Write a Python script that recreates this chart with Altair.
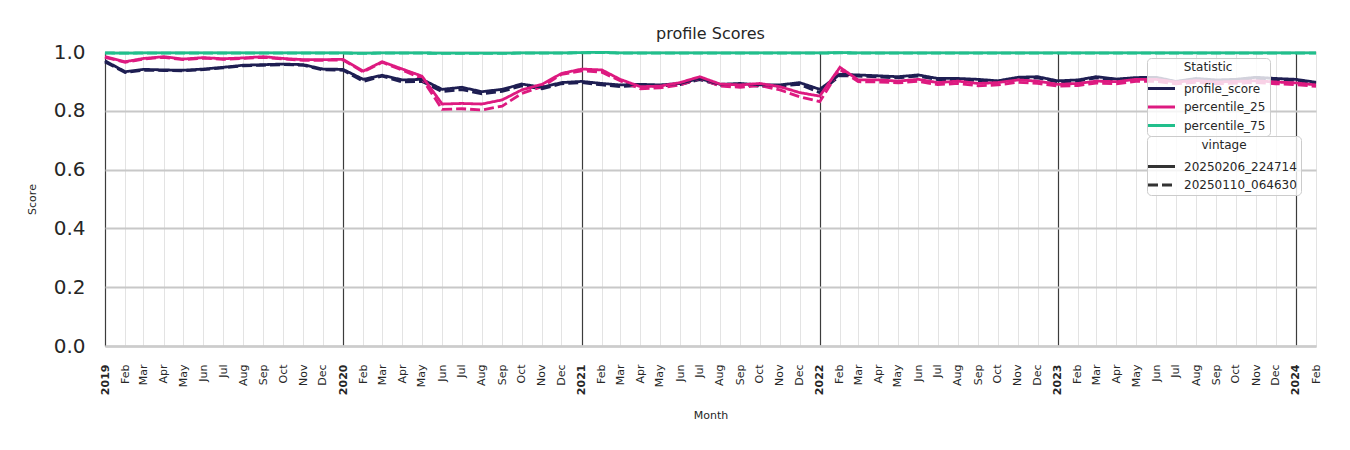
import altair as alt
import pandas as pd

months = pd.date_range("2019-01-01", "2024-02-01", freq="MS").strftime("%Y/%m/%d").tolist()

stats = ["profile_score", "percentile_25", "percentile_75"]
vintages = ["20250206_224714", "20250110_064630"]

profile_new = [
    0.970, 0.933, 0.941, 0.939, 0.938, 0.942, 0.948, 0.955, 0.957, 0.959, 0.957, 0.942,
    0.941, 0.907, 0.921, 0.905, 0.907, 0.873, 0.880, 0.865, 0.873, 0.891, 0.880, 0.896,
    0.900, 0.893, 0.888, 0.890, 0.888, 0.893, 0.910, 0.890, 0.893, 0.888, 0.888, 0.896,
    0.873, 0.924, 0.922, 0.919, 0.916, 0.922, 0.910, 0.910, 0.907, 0.902, 0.914, 0.916,
    0.902, 0.905, 0.916, 0.908, 0.913, 0.914, 0.900, 0.910, 0.905, 0.907, 0.914, 0.910,
    0.907, 0.897,
]
profile_old = [
    0.966, 0.930, 0.938, 0.937, 0.936, 0.940, 0.946, 0.953, 0.955, 0.957, 0.955, 0.939,
    0.938, 0.900, 0.918, 0.898, 0.900, 0.865, 0.872, 0.858, 0.866, 0.885, 0.875, 0.892,
    0.896, 0.888, 0.882, 0.886, 0.884, 0.889, 0.906, 0.886, 0.889, 0.884, 0.884, 0.890,
    0.862, 0.920, 0.918, 0.915, 0.912, 0.918, 0.906, 0.906, 0.903, 0.898, 0.910, 0.912,
    0.898, 0.901, 0.912, 0.904, 0.909, 0.910, 0.896, 0.906, 0.901, 0.903, 0.910, 0.906,
    0.903, 0.893,
]
p25_new = [
    0.984, 0.967, 0.978, 0.984, 0.976, 0.981, 0.977, 0.980, 0.984, 0.978, 0.974, 0.974,
    0.975, 0.935, 0.967, 0.942, 0.918, 0.823, 0.825, 0.823, 0.837, 0.871, 0.890, 0.927,
    0.942, 0.939, 0.907, 0.882, 0.884, 0.896, 0.916, 0.891, 0.888, 0.893, 0.882, 0.862,
    0.850, 0.948, 0.905, 0.905, 0.901, 0.907, 0.896, 0.901, 0.893, 0.896, 0.905, 0.901,
    0.890, 0.893, 0.901, 0.899, 0.907, 0.907, 0.898, 0.903, 0.898, 0.900, 0.902, 0.898,
    0.895, 0.888,
]
p25_old = [
    0.982, 0.965, 0.976, 0.982, 0.974, 0.979, 0.975, 0.978, 0.982, 0.976, 0.972, 0.972,
    0.973, 0.932, 0.965, 0.938, 0.910, 0.805, 0.807, 0.803, 0.816, 0.859, 0.882, 0.924,
    0.936, 0.931, 0.902, 0.875, 0.878, 0.888, 0.910, 0.884, 0.880, 0.886, 0.871, 0.848,
    0.831, 0.940, 0.899, 0.898, 0.895, 0.900, 0.889, 0.893, 0.885, 0.888, 0.897, 0.893,
    0.884, 0.886, 0.894, 0.892, 0.900, 0.900, 0.892, 0.897, 0.892, 0.894, 0.896, 0.892,
    0.889, 0.883,
]
p75_new = [
    0.997, 0.996, 0.997, 0.997, 0.997, 0.997, 0.997, 0.997, 0.997, 0.997, 0.997, 0.997,
    0.997, 0.996, 0.997, 0.997, 0.997, 0.996, 0.996, 0.996, 0.996, 0.997, 0.997, 0.997,
    0.998, 0.999, 0.997, 0.997, 0.997, 0.997, 0.997, 0.997, 0.997, 0.997, 0.997, 0.997,
    0.997, 0.998, 0.997, 0.997, 0.997, 0.997, 0.997, 0.997, 0.997, 0.997, 0.997, 0.997,
    0.997, 0.997, 0.997, 0.997, 0.997, 0.997, 0.997, 0.997, 0.997, 0.997, 0.997, 0.997,
    0.997, 0.997,
]
p75_old = [
    0.996, 0.996, 0.996, 0.996, 0.996, 0.996, 0.996, 0.996, 0.996, 0.996, 0.996, 0.996,
    0.996, 0.995, 0.996, 0.996, 0.996, 0.995, 0.995, 0.995, 0.995, 0.996, 0.996, 0.996,
    0.997, 0.998, 0.996, 0.996, 0.996, 0.996, 0.996, 0.996, 0.996, 0.996, 0.996, 0.996,
    0.996, 0.997, 0.996, 0.996, 0.996, 0.996, 0.996, 0.996, 0.996, 0.996, 0.996, 0.996,
    0.996, 0.996, 0.996, 0.996, 0.996, 0.996, 0.996, 0.996, 0.996, 0.996, 0.996, 0.996,
    0.996, 0.996,
]

series = [
    ("profile_score", vintages[1], profile_old),
    ("percentile_25", vintages[1], p25_old),
    ("percentile_75", vintages[1], p75_old),
    ("profile_score", vintages[0], profile_new),
    ("percentile_25", vintages[0], p25_new),
    ("percentile_75", vintages[0], p75_new),
]
rows = []
for stat, vint, vals in series:
    for m, v in zip(months, vals):
        rows.append({"Month": m, "Score": v, "Statistic": stat, "vintage": vint})
df = pd.DataFrame(rows)

FONT = "DejaVu Sans"
TXT = "#262626"
is_jan = "month(datum.value) == 0"

chart = alt.Chart(df).mark_line(strokeWidth=2.8).encode(
    x=alt.X(
        "Month:T",
        title="Month",
        scale=alt.Scale(
            domain=[alt.DateTime(year=2019, month=1, date=1), alt.DateTime(year=2024, month=2, date=1)],
            nice=False,
        ),
        axis=alt.Axis(
            tickCount={"interval": "month", "step": 1},
            labelExpr="month(datum.value) == 0 ? timeFormat(datum.value, '%Y') : timeFormat(datum.value, '%b')",
            labelAngle=270,
            labelAlign="right",
            labelBaseline="middle",
            labelFontSize=11,
            labelFont=FONT,
            labelColor=TXT,
            labelFontWeight={"condition": {"test": is_jan, "value": "bold"}, "value": "normal"},
            labelPadding=18,
            labelOverlap=False,
            labelFlush=False,
            ticks=False,
            domain=True,
            domainColor="#cccccc",
            domainWidth=2.5,
            grid=True,
            gridColor={"condition": {"test": is_jan, "value": "#3c3c3c"}, "value": "#e3e3e3"},
            gridWidth={"condition": {"test": is_jan, "value": 1.2}, "value": 1},
            title="Month",
            titleFont=FONT,
            titleFontSize=11,
            titleFontWeight="normal",
            titleColor=TXT,
            titlePadding=15,
        ),
    ),
    y=alt.Y(
        "Score:Q",
        title="Score",
        scale=alt.Scale(domain=[0, 1], nice=False),
        axis=alt.Axis(
            values=[0, 0.2, 0.4, 0.6, 0.8, 1.0],
            format=".1f",
            labelFontSize=20,
            labelFont=FONT,
            labelColor=TXT,
            labelPadding=20,
            ticks=False,
            domain=False,
            grid=True,
            gridColor="#c8c8c8",
            gridWidth=2,
            titleFont=FONT,
            titleFontSize=11,
            titleFontWeight="normal",
            titleColor=TXT,
            titlePadding=16,
        ),
    ),
    color=alt.Color(
        "Statistic:N",
        scale=alt.Scale(domain=stats, range=["#1e1e52", "#dd1a80", "#21bf8c"]),
        sort=stats,
        legend=alt.Legend(
            title="Statistic",
            orient="none",
            legendX=1042,
            legendY=6,
            symbolType="M-1.5,0L1.5,0",
            symbolStrokeWidth=3,
        ),
    ),
    strokeDash=alt.StrokeDash(
        "vintage:N",
        scale=alt.Scale(domain=vintages, range=[[1, 0], [10, 4]]),
        sort=vintages,
        legend=alt.Legend(
            title="vintage",
            orient="none",
            legendX=1042,
            legendY=84,
            symbolType="M-1.5,0L1.5,0",
            symbolStrokeColor="#333333",
            symbolStrokeWidth=3,
        ),
    ),
    detail="vintage:N",
).properties(
    width=1211,
    height=294,
    title=alt.TitleParams(
        "profile Scores", fontSize=16, font=FONT, fontWeight="normal", color=TXT, offset=0
    ),
    autosize=alt.AutoSizeParams(type="none"),
    padding={"left": 97, "top": 44, "right": 20, "bottom": 80},
).configure_view(
    stroke=None
).configure_legend(
    fillColor="rgba(255,255,255,0.8)",
    strokeColor="#cccccc",
    cornerRadius=4,
    padding=4,
    labelFont=FONT,
    labelFontSize=12,
    labelColor=TXT,
    titleFont=FONT,
    titleFontSize=12,
    titleFontWeight="normal",
    titleColor=TXT,
    titleAnchor="middle",
    titlePadding=4,
    symbolSize=324,
    labelOffset=12,
    rowPadding=1.5,
)

chart.save("out.html", embed_options={"renderer": "svg", "actions": False})
